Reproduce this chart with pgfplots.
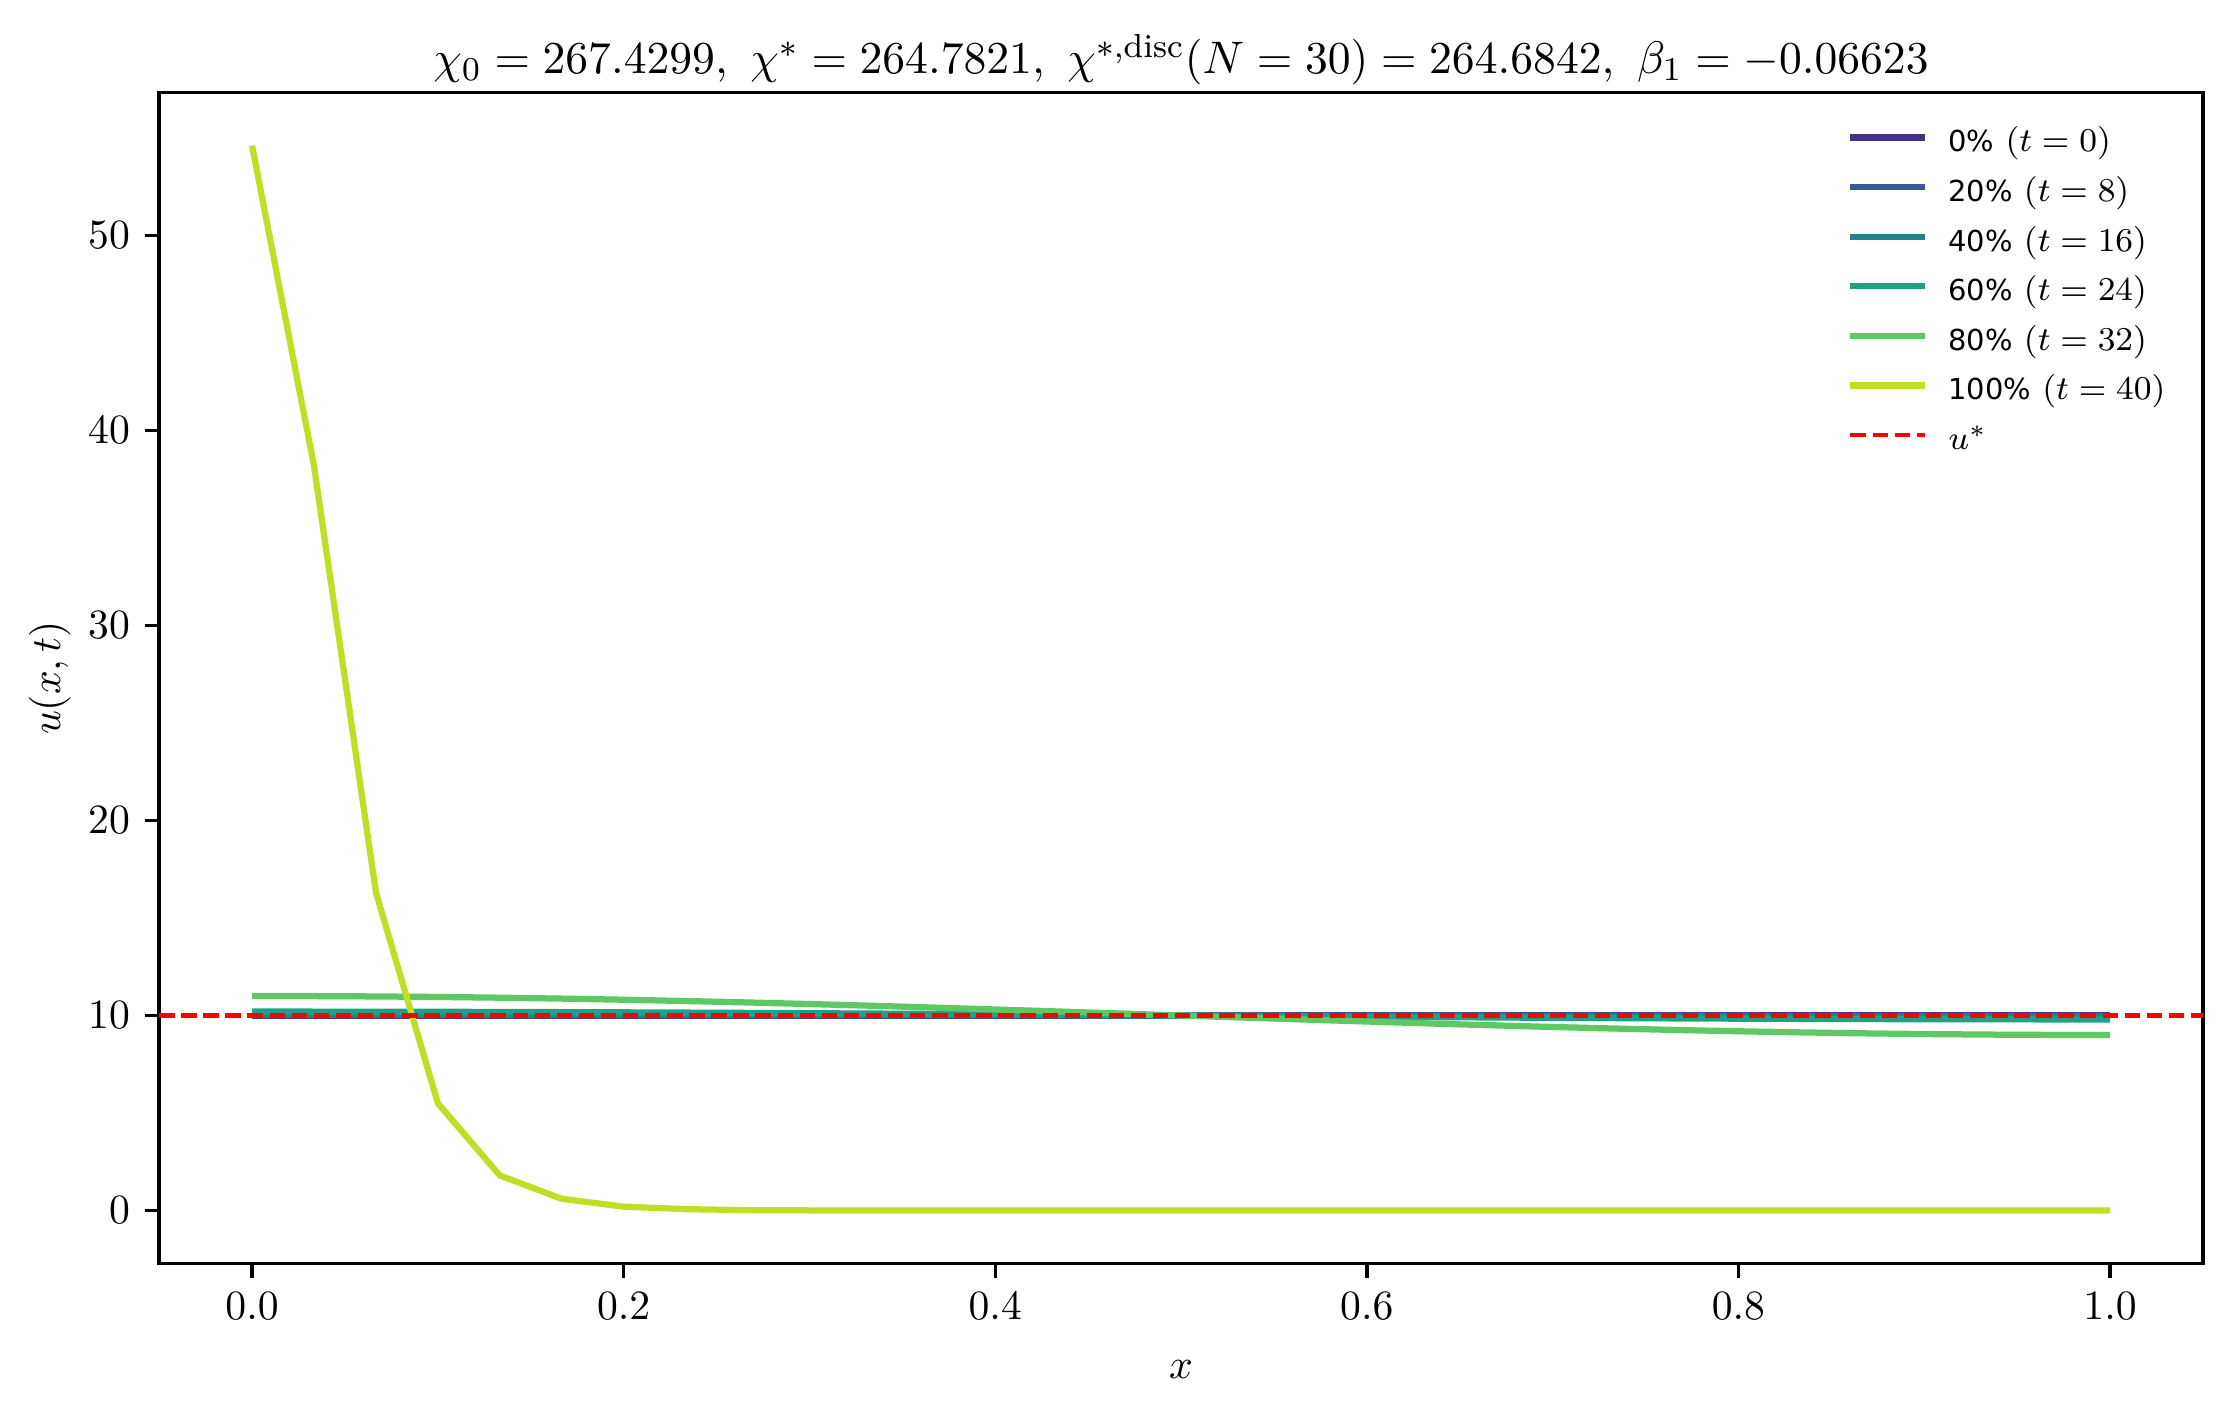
\documentclass[border=0pt]{standalone}
\usepackage{fontspec}
\newfontfamily\dejavu{DejaVu Sans}
\usepackage{pgfplots}
\pgfplotsset{compat=1.18}

% viridis samples
\definecolor{c0}{HTML}{46327E}
\definecolor{c20}{HTML}{365C8D}
\definecolor{c40}{HTML}{277F8E}
\definecolor{c60}{HTML}{1FA187}
\definecolor{c80}{HTML}{5EC962}
\definecolor{c100}{HTML}{BDDF26}

% legend label: percentage in sans, time in math
\newcommand{\lgd}[2]{{\dejavu #1} {\fontsize{8.3}{9}\selectfont$(t=#2)$}}

\begin{document}
\begin{tikzpicture}
\useasboundingbox (-38.2pt,-34.8pt) rectangle (494.6pt,303.3pt);
\begin{axis}[
    at={(0pt,0pt)}, anchor=south west,
    scale only axis, width=490.5pt, height=281.1pt,
    xmin=-0.05, xmax=1.05, ymin=-2.73, ymax=57.33,
    xtick={0,0.2,0.4,0.6,0.8,1.0},
    xticklabels={$0.0$,$0.2$,$0.4$,$0.6$,$0.8$,$1.0$},
    ytick={0,10,20,30,40,50},
    tick align=outside, tick pos=left,
    major tick length=3.5pt,
    every tick/.style={black, line width=0.8pt},
    axis line style={line width=0.8pt},
    xlabel={$x$}, ylabel={$u(x,t)$},
    every axis x label/.style={at={(axis description cs:0.5,-0.09)}, anchor=center},
    every axis y label/.style={at={(axis description cs:-0.0536,0.5)}, rotate=90, anchor=center},
    title={$\chi_0 = 267.4299,\ \chi^{*} = 264.7821,\ \chi^{*,\mathrm{disc}}(N=30) = 264.6842,\ \beta_1 = -0.06623$},
    every axis title/.style={at={(axis description cs:0.5,1.028)}, anchor=center, font=\fontsize{10.95}{13}\selectfont},
    legend cell align=left,
    legend image code/.code={\draw[#1] (0pt,1.8pt) -- (17.8pt,1.8pt);},
    legend style={draw=none, fill=none, inner sep=0pt, outer sep=0pt,
        at={(axis description cs:0.826,0.967)}, anchor=north west,
        font=\fontsize{6.94}{8}\selectfont, row sep=5.2pt,
        nodes={inner sep=0pt, text height=5pt, text depth=1.7pt},
        /tikz/every odd column/.append style={column sep=5pt}},
    every axis plot/.append style={line width=1.5pt, line join=round},
]

\addplot[c0] coordinates {(0,10) (1,10)};
\addlegendentry{\lgd{0\%}{0}}

\addplot[c20] coordinates {
(0,10.008) (0.1,10.007) (0.2,10.006) (0.3,10.005) (0.4,10.002) (0.5,10.000)
(0.6,9.998) (0.7,9.995) (0.8,9.994) (0.9,9.993) (1.0,9.992)};
\addlegendentry{\lgd{20\%}{8}}

\addplot[c40] coordinates {
(0,10.040) (0.1,10.038) (0.2,10.032) (0.3,10.024) (0.4,10.012) (0.5,10.000)
(0.6,9.988) (0.7,9.976) (0.8,9.968) (0.9,9.962) (1.0,9.960)};
\addlegendentry{\lgd{40\%}{16}}

\addplot[c60] coordinates {
(0.0000,10.200) (0.0333,10.199) (0.0667,10.196) (0.1000,10.190) (0.1333,10.183)
(0.1667,10.173) (0.2000,10.162) (0.2333,10.149) (0.2667,10.134) (0.3000,10.118)
(0.3333,10.100) (0.3667,10.081) (0.4000,10.062) (0.4333,10.042) (0.4667,10.021)
(0.5000,10.000) (0.5333,9.979) (0.5667,9.958) (0.6000,9.938) (0.6333,9.919)
(0.6667,9.900) (0.7000,9.882) (0.7333,9.866) (0.7667,9.851) (0.8000,9.838)
(0.8333,9.827) (0.8667,9.817) (0.9000,9.810) (0.9333,9.804) (0.9667,9.801)
(1.0000,9.800)};
\addlegendentry{\lgd{60\%}{24}}

\addplot[c80] coordinates {
(0.0000,11.000) (0.0333,10.995) (0.0667,10.978) (0.1000,10.951) (0.1333,10.914)
(0.1667,10.866) (0.2000,10.809) (0.2333,10.743) (0.2667,10.669) (0.3000,10.588)
(0.3333,10.500) (0.3667,10.407) (0.4000,10.309) (0.4333,10.208) (0.4667,10.105)
(0.5000,10.000) (0.5333,9.895) (0.5667,9.792) (0.6000,9.691) (0.6333,9.593)
(0.6667,9.500) (0.7000,9.412) (0.7333,9.331) (0.7667,9.257) (0.8000,9.191)
(0.8333,9.134) (0.8667,9.086) (0.9000,9.049) (0.9333,9.022) (0.9667,9.005)
(1.0000,9.000)};
\addlegendentry{\lgd{80\%}{32}}

\addplot[c100] coordinates {
(0.0000,54.60) (0.0333,38.20) (0.0667,16.30) (0.1000,5.50) (0.1333,1.80)
(0.1667,0.60) (0.2000,0.20) (0.2333,0.07) (0.2667,0.02) (0.3000,0.007)
(0.3333,0.002) (0.3667,0.0) (0.4000,0.0) (0.4333,0.0) (0.4667,0.0)
(0.5000,0.0) (0.5333,0.0) (0.5667,0.0) (0.6000,0.0) (0.6333,0.0)
(0.6667,0.0) (0.7000,0.0) (0.7333,0.0) (0.7667,0.0) (0.8000,0.0)
(0.8333,0.0) (0.8667,0.0) (0.9000,0.0) (0.9333,0.0) (0.9667,0.0)
(1.0000,0.0)};
\addlegendentry{\lgd{100\%}{40}}

\addplot[red, line width=1pt, dash pattern=on 3.7pt off 1.6pt] coordinates {(-0.05,10) (1.05,10)};
\addlegendentry{{\fontsize{8.3}{9}\selectfont$u^{*}$}}

\end{axis}
\end{tikzpicture}
\end{document}
